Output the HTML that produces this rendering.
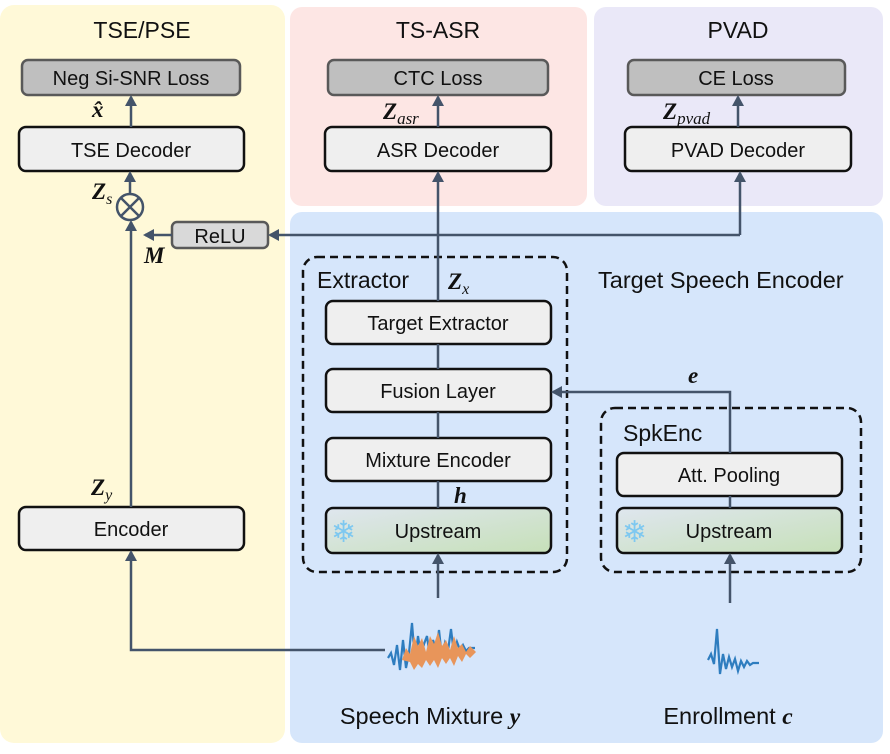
<!DOCTYPE html>
<html><head><meta charset="utf-8"><style>
body{margin:0;background:#fff}
text{font-family:"Liberation Sans",sans-serif;fill:#111}
.m{font-family:"Liberation Serif",serif;font-weight:bold;font-style:italic}
</style></head><body>
<svg width="890" height="749" viewBox="0 0 890 749" xmlns="http://www.w3.org/2000/svg">
<defs>
<marker id="a" markerWidth="12" markerHeight="12" refX="9" refY="6" orient="auto" markerUnits="userSpaceOnUse"><path d="M0,0 L11,6 L0,12 z" fill="#44546a"/></marker>
<linearGradient id="g" x1="0" y1="0" x2="1" y2="1"><stop offset="0" stop-color="#dfe6ef"/><stop offset="1" stop-color="#c6e0b8"/></linearGradient>
</defs>
<rect x="0" y="5" width="285" height="738" rx="14" fill="#fff9d8"/>
<rect x="290" y="7" width="297" height="199" rx="12" fill="#fde6e4"/>
<rect x="594" y="7" width="289" height="199" rx="12" fill="#eae8f8"/>
<rect x="290" y="212" width="593" height="531" rx="12" fill="#d6e6fb"/>
<text x="142" y="38" font-size="23" text-anchor="middle">TSE/PSE</text>
<text x="438" y="38" font-size="23" text-anchor="middle">TS-ASR</text>
<text x="738" y="38" font-size="23" text-anchor="middle">PVAD</text>
<g stroke="#595959" stroke-width="2.5" fill="#bfbfbf">
<rect x="22" y="60" width="218" height="35" rx="6"/><rect x="328" y="60" width="220" height="35" rx="6"/><rect x="628" y="60" width="217" height="35" rx="6"/>
<rect x="172" y="222" width="96" height="26" rx="5" fill="#d9d9d9"/></g>
<g font-size="20" text-anchor="middle"><text x="131" y="85">Neg Si-SNR Loss</text><text x="438" y="85">CTC Loss</text><text x="736" y="85">CE Loss</text><text x="220" y="243">ReLU</text></g>
<g stroke="#111" stroke-width="2.5" fill="#efefef">
<rect x="19" y="127" width="225" height="44" rx="7"/><rect x="325" y="127" width="226" height="44" rx="7"/><rect x="625" y="127" width="226" height="44" rx="7"/>
<rect x="19" y="507" width="225" height="43" rx="7"/>
<rect x="326" y="301" width="225" height="43" rx="7"/><rect x="326" y="369" width="225" height="43" rx="7"/><rect x="326" y="438" width="225" height="43" rx="7"/>
<rect x="326" y="508" width="225" height="45" rx="7" fill="url(#g)"/>
<rect x="617" y="453" width="225" height="43" rx="7"/><rect x="617" y="508" width="225" height="45" rx="7" fill="url(#g)"/>
</g>
<g stroke="#111" stroke-width="2.5" fill="none" stroke-dasharray="8,5">
<rect x="303" y="257" width="264" height="315" rx="14"/><rect x="601" y="408" width="260" height="164" rx="14"/></g>
<g font-size="20" text-anchor="middle">
<text x="131" y="157">TSE Decoder</text><text x="438" y="157">ASR Decoder</text><text x="738" y="157">PVAD Decoder</text>
<text x="131" y="536">Encoder</text><text x="438" y="330">Target Extractor</text><text x="438" y="398">Fusion Layer</text><text x="438" y="467">Mixture Encoder</text>
<text x="438" y="538">Upstream</text><text x="729" y="482">Att. Pooling</text><text x="729" y="538">Upstream</text></g>
<g font-size="30"><text x="331" y="542" style="fill:#7ec8f0">❄</text><text x="622" y="542" style="fill:#7ec8f0">❄</text></g>
<text x="317" y="288" font-size="23">Extractor</text>
<text x="598" y="288" font-size="23.5">Target Speech Encoder</text>
<text x="623" y="441" font-size="23">SpkEnc</text>
<text x="430" y="724" font-size="23.5" text-anchor="middle">Speech Mixture <tspan class="m">y</tspan></text>
<text x="728" y="724" font-size="23.5" text-anchor="middle">Enrollment <tspan class="m">c</tspan></text>
<g stroke="#44546a" stroke-width="2.5" fill="none">
<circle cx="130" cy="207" r="13"/><path d="M121,198 L139,216 M139,198 L121,216"/>
<path d="M131,507 V222" marker-end="url(#a)"/><path d="M130,194 V173" marker-end="url(#a)"/><path d="M131,127 V97" marker-end="url(#a)"/>
<path d="M385,650 H131 V552" marker-end="url(#a)"/>
<path d="M438,301 V173" marker-end="url(#a)"/><path d="M438,127 V97" marker-end="url(#a)"/>
<path d="M438,369 V344 M438,438 V412 M438,508 V481"/>
<path d="M438,598 V555" marker-end="url(#a)"/>
<path d="M738,127 V97" marker-end="url(#a)"/>
<path d="M740,235 V173" marker-end="url(#a)"/><path d="M740,235 H270" marker-end="url(#a)"/><path d="M172,235 H145" marker-end="url(#a)"/>
<path d="M730,453 V392 H553" marker-end="url(#a)"/><path d="M730,508 V496"/><path d="M730,603 V555" marker-end="url(#a)"/>
</g>
<g stroke="#2e7dbf" stroke-width="2.2" fill="none">
<path d="M388,658 l3,-5 3,12 3,-20 3,25 3,-30 3,28 3,-15 3,-30 3,38 3,-25 3,20 3,-12 3,-8 3,22 3,-18 3,10 3,-20 3,28 3,-15 3,8 3,-22 3,25 3,-12 3,8 3,-5 3,6 3,-3 6,0"/>
<path d="M708,660 l3,-6 3,10 3,-35 3,45 3,-20 3,15 3,-12 3,10 3,-8 3,12 3,-10 3,6 3,-6 3,4 3,-2 6,0"/>
</g>
<path d="M402,660 l4,-12 4,6 4,-18 4,10 4,-8 4,14 4,-16 4,8 4,-12 4,14 4,-6 4,10 4,-14 4,12 4,-4 4,8 4,-6 6,6 l-6,6 -4,-4 -4,8 -4,-6 -4,10 -4,-8 -4,6 -4,-6 -4,10 -4,-8 -4,6 -4,-6 -4,8 -4,-4 -4,6 -4,-8z" fill="#e8955a"/>
<g font-size="23">
<text x="92" y="117" class="m">x̂</text>
<text x="92" y="199" class="m">Z<tspan font-size="16" dy="5" font-weight="normal">s</tspan></text>
<text x="144" y="263" class="m">M</text>
<text x="91" y="495" class="m">Z<tspan font-size="16" dy="5" font-weight="normal">y</tspan></text>
<text x="448" y="289" class="m">Z<tspan font-size="16" dy="5" font-weight="normal">x</tspan></text>
<text x="383" y="119" class="m">Z<tspan font-size="17" dy="5" font-weight="normal">asr</tspan></text>
<text x="663" y="119" class="m">Z<tspan font-size="17" dy="5" font-weight="normal">pvad</tspan></text>
<text x="454" y="503" class="m">h</text>
<text x="688" y="383" class="m">e</text>
</g>
</svg>
</body></html>
